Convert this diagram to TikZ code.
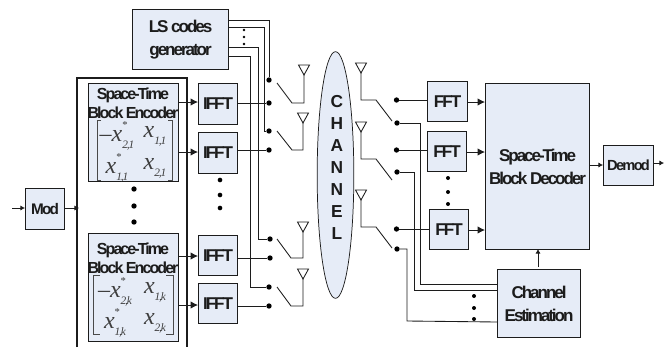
\documentclass[tikz,border=0pt]{standalone}
\usepackage{fontspec}
\setmainfont[LetterSpace=-12]{Liberation Sans}
\newfontfamily\mxfont{Liberation Serif}
\newfontfamily\mxsub[LetterSpace=-10]{Liberation Serif}
\newfontfamily\chfont{Liberation Sans}
\usetikzlibrary{arrows.meta,shapes.geometric}
\definecolor{boxfill}{HTML}{E6ECF7}
\definecolor{ink}{HTML}{1C1C1C}
\tikzset{
  bx/.style={draw=ink,fill=boxfill,line width=.85pt,inner sep=0pt,anchor=north west,align=center,font=\bfseries\fontsize{12.8}{17}\selectfont,text=ink},
  wire/.style={draw=ink,line width=.65pt},
  arrB/.style={wire,-{Latex[length=5.5pt,width=5.5pt]}},
  arrS/.style={wire,-{Latex[length=3.5pt,width=4pt]}},
  pin/.style={circle,fill=black,inner sep=0pt,minimum size=4pt},
  spot/.style={circle,fill=black,inner sep=0pt,minimum size=3pt},
  bigspot/.style={circle,fill=black,inner sep=0pt,minimum size=3.5pt},
  ant/.style={draw=ink,fill=white,line width=.65pt,line join=miter},
  brk/.style={draw=ink!80,line width=.7pt},
  mx/.style={inner sep=0pt,font=\fontsize{18}{20}\selectfont\mxfont\itshape,text=ink!85},
  enct/.style={inner sep=0pt,align=center,font=\bfseries\fontsize{12}{14.5}\selectfont,text=ink},
}
\newcommand\bxx[6]{%
  \pgfmathsetmacro\bw{(#4-#2)*.75}\pgfmathsetmacro\bh{(#5-#3)*.75}%
  \node[bx,minimum width=\bw pt,minimum height=\bh pt] (#1) at (#2,#3) {#6};}
\newcommand\sw[9]{%
  \node[pin] (#1a) at (#2,#3) {};
  \node[pin] (#1b) at (#4,#5) {};
  \draw[wire] (277,#6) -- (#7,#5) -- (#8,#5) -- (#8,#9);
  \draw[ant] (#8-5.5,#9-10) -- (#8+5.5,#9-10) -- (#8,#9) -- cycle;}
\newcommand\xsb[1]{\raisebox{-.28em}{\mxsub\itshape\fontsize{8.5}{9}\selectfont #1}}
\newcommand\xs[1]{x\rlap{\raisebox{.55em}{\upshape\fontsize{8}{8}\selectfont *}}\xsb{#1}}
\newcommand\xp[1]{x\xsb{#1}}
\begin{document}
\begin{tikzpicture}[x=.75pt,y=-.75pt]
\useasboundingbox (0,0) rectangle (671,347);
\fill[white] (0,0) rectangle (671,347);
% outer encoder frame
\draw[draw=ink,line width=.85pt] (77,347) -- (77,78) -- (187,78) -- (187,347);
% boxes
\bxx{ls}{132}{9}{228}{69}{LS codes\\generator}
\bxx{mod}{25}{188}{64}{229}{\fontsize{11.5}{12}\selectfont Mod}
\bxx{encA}{87.5}{83}{178}{181}{}
\bxx{encB}{87.5}{233}{178}{341}{}
\node[enct] (encAt) at (133,103) {Space-Time\\Block Encoder};
\node[enct] (encBt) at (133,258) {Space-Time\\Block Encoder};
\bxx{ifA}{198}{83}{237}{124}{IFFT}
\bxx{ifB}{198}{132}{237}{173}{IFFT}
\bxx{ifC}{198}{235}{237}{275}{IFFT}
\bxx{ifD}{198}{283}{237}{323}{IFFT}
\bxx{ffA}{427}{81}{467}{121}{FFT}
\bxx{ffB}{427}{131}{466}{171}{FFT}
\bxx{ffC}{429}{209}{468}{249}{FFT}
\bxx{dec}{485}{83}{589}{249}{Space-Time\\Block Decoder}
\bxx{dem}{603}{145}{653}{185}{\fontsize{11}{12}\selectfont Demod}
\bxx{ce}{497}{269}{580}{337}{Channel\\Estimation}
% matrices
\draw[brk] (101,120) -- (97,120) -- (97,180) -- (101,180) (168,120) -- (172,120) -- (172,180) -- (168,180);
\node[mx] (m11) at (117,136) {\textendash\xs{2,1}};
\node[mx] (m12) at (155,136) {\xp{1,1}};
\node[mx] (m13) at (117,168) {\xs{1,1}};
\node[mx] (m14) at (155,168) {\xp{2,1}};
\draw[brk] (100,275) -- (93,275) -- (93,334) -- (100,334) (166,275) -- (173,275) -- (173,334) -- (166,334);
\node[mx] (m21) at (115,292) {\textendash\xs{2,k}};
\node[mx] (m22) at (155,292) {\xp{1,k}};
\node[mx] (m23) at (115,323) {\xs{1,k}};
\node[mx] (m24) at (155,323) {\xp{2,k}};
% channel
\node[ellipse,draw=ink,fill=boxfill,line width=.55pt,inner sep=0pt,minimum width=27.5pt,minimum height=185pt] (chan) at (335.5,175) {};
\node[align=center,font=\chfont\bfseries\fontsize{13}{16.5}\selectfont,text=ink,inner sep=0pt] (chant) at (337,167) {C\\H\\A\\N\\N\\E\\L};
% tx switches
\sw{ta}{269}{80}{269}{103}{83}{292}{304}{75}
\sw{tb}{269}{131}{269}{150}{131}{292}{303}{123}
\sw{tc}{270}{239}{270}{258}{239}{291}{303}{232}
\sw{td}{269}{287}{269}{306}{287}{291}{303}{279}
% LS lines
\draw[wire] (ls.east |- 0,20) -| (taa);
\draw[wire] (ls.east |- 0,27) -| (264,131) -- (tba);
\draw[wire] (ls.east |- 0,47) -| (258,239) -- (tca);
\draw[wire] (ls.east |- 0,56) -| (250,287) -- (tda);
\node[spot,minimum size=2.2pt] (d1) at (244,30) {};
\node[spot,minimum size=2.2pt] (d2) at (244,37) {};
\node[spot,minimum size=2.2pt] (d3) at (244,44) {};
% encoder to IFFT
\draw[arrB] (encA.east |- 0,102) -- (ifA.west |- 0,102);
\draw[arrB] (encA.east |- 0,152) -- (ifB.west |- 0,152);
\draw[arrB] (encB.east |- 0,256) -- (ifC.west |- 0,256);
\draw[arrB] (encB.east |- 0,305) -- (ifD.west |- 0,305);
\draw[wire] (ifA.east |- tab) -- (tab);
\draw[wire] (ifB.east |- tbb) -- (tbb);
\draw[wire] (ifC.east |- tcb) -- (tcb);
\draw[wire] (ifD.east |- tdb) -- (tdb);
% mod
\coordinate (src) at (12,208);
\coordinate (snk) at (664,163);
\draw[arrS] (src) -- (mod.west |- src);
\draw[arrS] (mod.east |- src) -- (79,208);
% spots
\foreach \n/\y in {a/189,b/206,c/222} \node[bigspot,minimum size=4pt] (es\n) at (134,\y) {};
\foreach \n/\y in {a/180,b/195,c/208} \node[bigspot] (is\n) at (220,\y) {};
\foreach \n/\y in {a/178,b/192,c/204} \node[spot] (fs\n) at (448,\y) {};
\foreach \n/\y in {a/296,b/308,c/319} \node[spot] (cs\n) at (474,\y) {};
% rx switches
\newcommand\rx[6]{%
  \draw[ant] (361-5.5,#2-10) -- (361+5.5,#2-10) -- (361,#2) -- cycle;
  \draw[wire] (361,#2) -- (361,#3) -- (376,#3) -- (392,#4);
  \node[pin] (#1a) at (396.5,#5) {};
  \node[pin] (#1b) at (397,#6) {};}
\rx{ra}{73}{100}{121}{100}{123}
\rx{rb}{132}{159}{180}{150}{172}
\rx{rc}{200}{227}{248}{229}{249}
\draw[wire] (raa) -- (ffA.west |- raa);
\draw[wire] (rba) -- (ffB.west |- rba);
\draw[wire] (rca) -- (ffC.west |- rca);
\draw[wire] (rab) -| (420,284) -- (ce.west |- 0,284);
\draw[wire] (rbb) -| (414,290) -- (ce.west |- 0,290);
\draw[wire] (rcb) -| (407,321) -- (ce.west |- 0,322);
\draw[arrB] (ffA.east |- 0,102) -- (dec.west |- 0,102);
\draw[arrB] (ffB.east |- 0,152) -- (dec.west |- 0,152);
\draw[arrB] (ffC.east |- 0,230) -- (dec.west |- 0,230);
\draw[arrS] (dec.east |- 0,165) -- (dem.west |- 0,165);
\draw[arrS] (dem.east |- snk) -- (snk);
\draw[arrS] (538,267) -- (538,249);
\end{tikzpicture}
\end{document}
